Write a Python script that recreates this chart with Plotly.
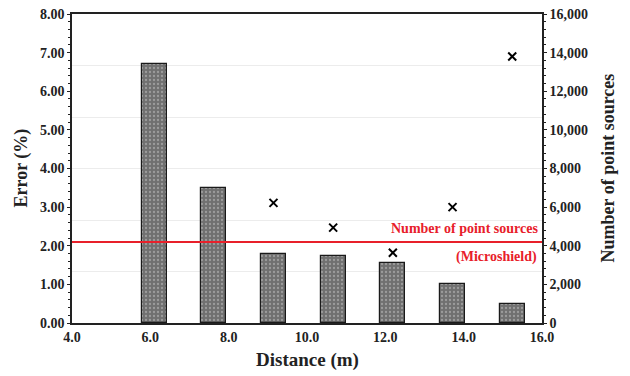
import plotly.graph_objects as go

# ---- data ----
distance_m = [6.096, 7.62, 9.144, 10.668, 12.192, 13.716, 15.24]
point_sources = [13430, 7010, 3560, 3490, 3110, 2040, 990]
error_distance_m = [9.144, 10.668, 12.192, 13.716, 15.24]
error_pct = [3.11, 2.47, 1.82, 3.00, 6.90]
microshield_sources = 4200

x_tickvals = [4, 6, 8, 10, 12, 14, 16]
x_ticktext = ["4.0", "6.0", "8.0", "10.0", "12.0", "14.0", "16.0"]
left_tickvals = [0, 1, 2, 3, 4, 5, 6, 7, 8]
left_ticktext = ["0.00", "1.00", "2.00", "3.00", "4.00", "5.00", "6.00", "7.00", "8.00"]
right_tickvals = [0, 2000, 4000, 6000, 8000, 10000, 12000, 14000, 16000]
right_ticktext = ["0", "2,000", "4,000", "6,000", "8,000", "10,000", "12,000", "14,000", "16,000"]

FONT = "Liberation Serif"
RED = "#e8202a"

fig = go.Figure()

fig.add_trace(go.Bar(
    x=distance_m, y=point_sources, yaxis="y2", width=0.64,
    marker=dict(color="#707070", line=dict(color="#1a1a1a", width=1.2),
                pattern=dict(shape=".", fgcolor="#c8c8c8", bgcolor="#707070",
                             size=4, solidity=0.25)),
    showlegend=False,
))

fig.add_trace(go.Scatter(
    x=error_distance_m, y=error_pct, yaxis="y", mode="markers",
    marker=dict(symbol="x-thin", size=8, line=dict(color="black", width=2), color="black"),
    showlegend=False,
))

# invisible trace to activate grid overlay axis
fig.add_trace(go.Scatter(x=[None], y=[None], yaxis="y3", showlegend=False, hoverinfo="skip"))

fig.add_shape(type="line", xref="paper", x0=0, x1=1, yref="y2",
              y0=microshield_sources, y1=microshield_sources,
              line=dict(color=RED, width=2))

tick_font = dict(family=FONT, size=14, color="#222", weight="bold")

fig.update_layout(
    width=630, height=376,
    margin=dict(l=72, r=88, t=14, b=53, autoexpand=False),
    plot_bgcolor="white", paper_bgcolor="white",
    font=dict(family=FONT, weight="bold", color="#222"),
    bargap=0,
    xaxis=dict(range=[4, 16], tickvals=x_tickvals, ticktext=x_ticktext,
               tickfont=tick_font, showgrid=False, zeroline=False,
               showline=True, linecolor="#222", linewidth=1.5, mirror=True,
               ticks="", ticklabelstandoff=0, automargin=False),
    yaxis=dict(range=[0, 8], tickvals=left_tickvals, ticktext=left_ticktext,
               tickfont=tick_font, showgrid=False, zeroline=False,
               showline=True, linecolor="#222", linewidth=1.5, automargin=False,
               ticks="outside", ticklen=3, tickcolor="#222", tickwidth=1,
               minor=dict(ticks="outside", ticklen=2, dtick=0.2, tickcolor="#222", tickwidth=1)),
    yaxis2=dict(range=[0, 16000], tickvals=right_tickvals, ticktext=right_ticktext,
                overlaying="y", side="right", tickfont=tick_font,
                showgrid=False, zeroline=False, automargin=False,
                showline=True, linecolor="#222", linewidth=1.5,
                ticks="outside", ticklen=3, tickcolor="#222", tickwidth=1,
                minor=dict(ticks="outside", ticklen=2, dtick=400, tickcolor="#222", tickwidth=1)),
    yaxis3=dict(range=[0, 6], dtick=1, overlaying="y", showticklabels=False,
                showgrid=True, gridcolor="#ececec", gridwidth=1, zeroline=False,
                showline=False, ticks="", automargin=False),
)

fig.add_annotation(text="Distance (m)", xref="paper", yref="paper", x=0.5, y=0,
                   yshift=-37, showarrow=False, yanchor="middle",
                   font=dict(family=FONT, size=19, color="#222", weight="bold"))
fig.add_annotation(text="Error (%)", xref="paper", yref="paper", x=0, y=0.5,
                   xshift=-51, textangle=-90, showarrow=False,
                   xanchor="center", yanchor="middle",
                   font=dict(family=FONT, size=18, color="#222", weight="bold"))
fig.add_annotation(text="Number of point sources", xref="paper", yref="paper", x=1, y=0.5,
                   xshift=65, textangle=-90, showarrow=False,
                   xanchor="center", yanchor="middle",
                   font=dict(family=FONT, size=18, color="#222", weight="bold"))

red_font = dict(family=FONT, size=14, color=RED, weight="bold")
fig.add_annotation(text="Number of point sources", xref="paper", yref="y2", x=1,
                   y=microshield_sources, xanchor="right", yanchor="middle",
                   xshift=-2, yshift=13, showarrow=False, font=red_font)
fig.add_annotation(text="(Microshield)", xref="paper", yref="y2", x=1,
                   y=microshield_sources, xanchor="right", yanchor="middle",
                   xshift=-3, yshift=-15, showarrow=False, font=red_font)

fig.write_html("out.html", config={"displayModeBar": False},
               post_script="document.body.style.margin='0';")
